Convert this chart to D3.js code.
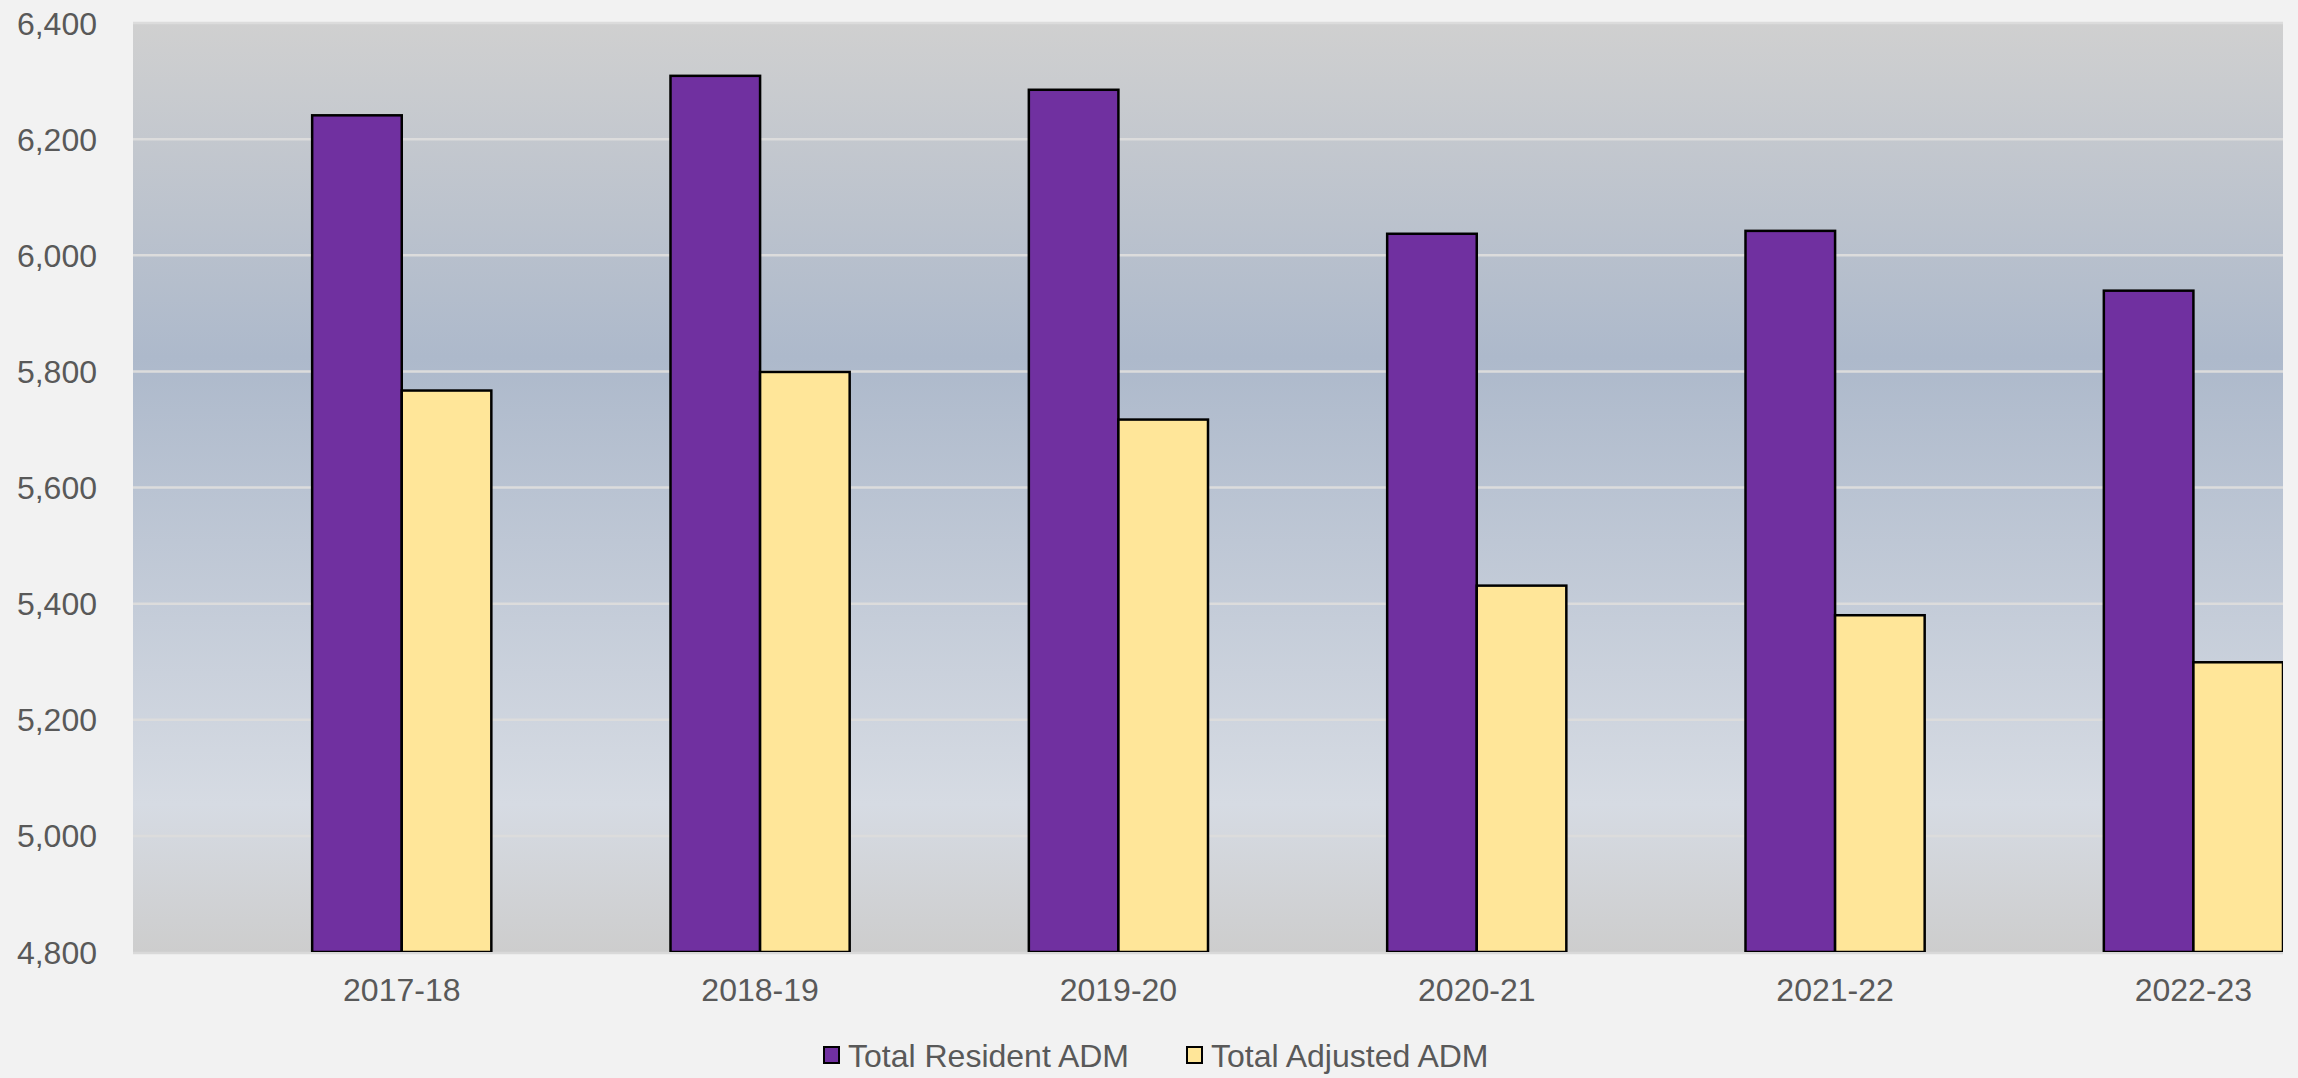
<!DOCTYPE html>
<html>
<head>
<meta charset="utf-8">
<script src="https://cdn.jsdelivr.net/npm/d3@7"></script>
<style>
  html, body { margin: 0; padding: 0; background: #f2f2f2; }
  svg { display: block; font-family: 'Liberation Sans', Arial, sans-serif; }
</style>
</head>
<body>
<svg id="chart" width="2298" height="1078"></svg>
<script>
const years = ['2017-18', '2018-19', '2019-20', '2020-21', '2021-22', '2022-23'];
const seriesNames = ['Total Resident ADM', 'Total Adjusted ADM'];
const residentADM = [6241, 6309, 6285, 6037, 6042, 5939];
const adjustedADM = [5767, 5799, 5717, 5431, 5380, 5299];
const yTicks = [4800, 5000, 5200, 5400, 5600, 5800, 6000, 6200, 6400];
const colors = ['#7030a0', '#ffe699'];

const width = 2298, height = 1078;
const plot = { left: 133, right: 2283, top: 23, bottom: 952 };

const svg = d3.select('#chart');

// plot area gradient
const defs = svg.append('defs');
const grad = defs.append('linearGradient')
  .attr('id', 'bg').attr('x1', 0).attr('y1', 0).attr('x2', 0).attr('y2', 1);
[[0, '#d0d0d0'], [0.36, '#adb9cb'], [0.84, '#d6dbe3'], [1, '#cdcdcd']]
  .forEach(([o, c]) => grad.append('stop').attr('offset', o).attr('stop-color', c));

defs.append('clipPath').attr('id', 'plotclip')
  .append('rect')
    .attr('x', plot.left).attr('y', plot.top - 5)
    .attr('width', plot.right - plot.left).attr('height', plot.bottom - plot.top + 5);

svg.append('rect')
  .attr('x', plot.left).attr('y', plot.top - 1)
  .attr('width', plot.right - plot.left)
  .attr('height', plot.bottom - plot.top + 2)
  .attr('fill', 'url(#bg)');

const y = d3.scaleLinear().domain([4800, 6400]).range([plot.bottom, plot.top]);

// category bands are shifted half a step to the right, like the source chart
const step = (plot.right - plot.left) / years.length;
const x = d3.scaleBand()
  .domain(years)
  .range([plot.left + step / 4, plot.right + step / 4])
  .paddingInner(0.5)
  .paddingOuter(0.25);
const xSub = d3.scaleBand().domain(seriesNames).range([0, x.bandwidth()]);

// gridlines
svg.append('g')
  .selectAll('line')
  .data(yTicks.slice(1))
  .join('line')
    .attr('x1', plot.left).attr('x2', plot.right)
    .attr('y1', d => y(d)).attr('y2', d => y(d))
    .attr('stroke', '#dcdcdc')
    .attr('stroke-width', 2.5);

// bottom axis line
svg.append('line')
  .attr('x1', plot.left).attr('x2', plot.right)
  .attr('y1', plot.bottom + 1).attr('y2', plot.bottom + 1)
  .attr('stroke', '#d9d9d9').attr('stroke-width', 2.5);

// bars
const rows = years.map((yr, i) => ({ year: yr, values: [residentADM[i], adjustedADM[i]] }));
svg.append('g')
  .attr('clip-path', 'url(#plotclip)')
  .selectAll('g')
  .data(rows)
  .join('g')
    .attr('transform', d => `translate(${x(d.year)},0)`)
  .selectAll('rect')
  .data(d => d.values.map((v, j) => ({ name: seriesNames[j], value: v, j })))
  .join('rect')
    .attr('x', d => xSub(d.name))
    .attr('y', d => y(d.value))
    .attr('width', xSub.bandwidth())
    .attr('height', d => plot.bottom - y(d.value))
    .attr('fill', d => colors[d.j])
    .attr('stroke', '#000')
    .attr('stroke-width', 2.5);

// y axis labels
svg.append('g')
  .selectAll('text')
  .data(yTicks)
  .join('text')
    .attr('x', 97)
    .attr('y', d => y(d))
    .attr('dy', '0.36em')
    .attr('text-anchor', 'end')
    .attr('font-size', 32)
    .attr('fill', '#595959')
    .text(d => d3.format(',')(d));

// x axis labels
svg.append('g')
  .selectAll('text')
  .data(years)
  .join('text')
    .attr('x', d => x(d) + x.bandwidth() / 2)
    .attr('y', 1001)
    .attr('text-anchor', 'middle')
    .attr('font-size', 32)
    .attr('fill', '#595959')
    .text(d => d);

// legend
const legendItems = [
  { name: seriesNames[0], color: colors[0], x: 824 },
  { name: seriesNames[1], color: colors[1], x: 1187 },
];
const lg = svg.append('g')
  .selectAll('g')
  .data(legendItems)
  .join('g')
    .attr('transform', d => `translate(${d.x},1055)`);
lg.append('rect')
  .attr('x', 0).attr('y', -8)
  .attr('width', 15).attr('height', 16)
  .attr('fill', d => d.color)
  .attr('stroke', '#000').attr('stroke-width', 2);
lg.append('text')
  .attr('x', 24).attr('y', 0).attr('dy', '0.36em')
  .attr('font-size', 32)
  .attr('fill', '#595959')
  .text(d => d.name);
</script>
</body>
</html>
